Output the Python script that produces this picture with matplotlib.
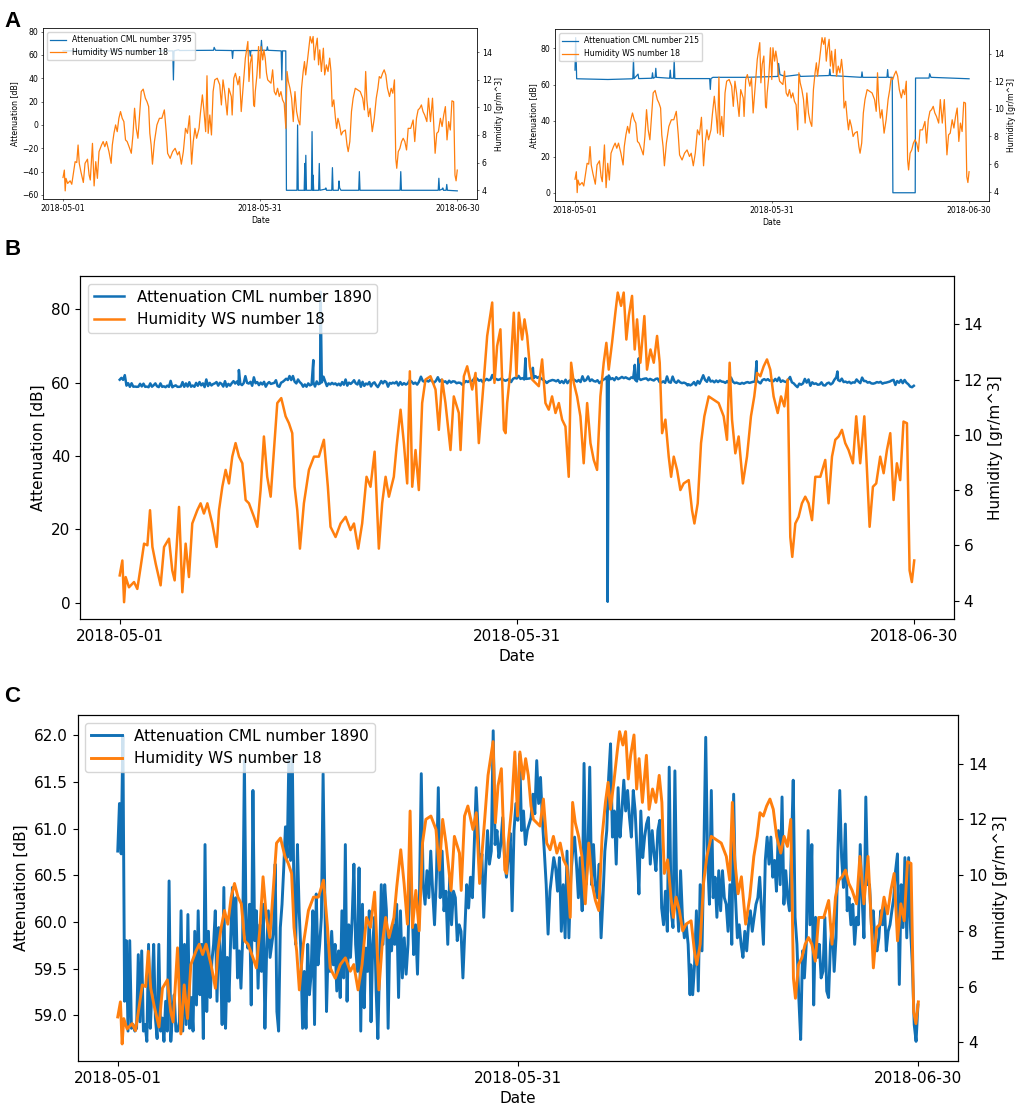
import numpy as np
import matplotlib
matplotlib.use("Agg")
from matplotlib import pyplot as plt
import matplotlib.dates as mdates

# =============================================================================
#         Humidity, weather station 18 (same series in all four plots)
# =============================================================================
hum_days = [0.00, 0.20, 0.33, 0.45, 0.70, 1.08, 1.33, 1.58, 1.84, 2.09, 2.29, 2.47,
            2.72, 3.09, 3.35, 3.72, 3.97, 4.15, 4.48, 4.73, 4.98, 5.23, 5.48, 5.86,
            6.11, 6.36, 6.62, 6.99, 7.32, 7.50, 7.75, 8.00, 8.25, 8.50, 8.75, 9.01,
            9.26, 9.51, 9.76, 10.14, 10.39, 10.64, 10.89, 11.14, 11.40, 11.65, 11.90,
            12.20, 12.53, 12.78, 13.03, 13.21, 13.41, 13.61, 13.91, 14.29, 14.67,
            15.04, 15.42, 15.72, 15.92, 16.30, 16.68, 17.06, 17.43, 17.69, 18.01,
            18.31, 18.64, 18.94, 19.25, 19.57, 19.82, 20.08, 20.33, 20.70, 20.91,
            21.21, 21.46, 21.71, 21.91, 22.09, 22.34, 22.59, 22.84, 23.09, 23.47,
            23.85, 24.10, 24.35, 24.60, 24.98, 25.23, 25.61, 25.74, 25.99, 26.24,
            26.62, 26.87, 27.12, 27.50, 27.75, 28.13, 28.30, 28.50,
            28.75, 29.01, 29.14, 29.26, 29.51, 29.76, 29.96, 30.14, 30.39, 30.57,
            30.77, 30.97, 31.15, 31.40, 31.65, 31.90, 32.15, 32.40, 32.65, 32.91,
            33.16, 33.41, 33.66, 33.91, 34.09, 34.29, 34.54, 34.79, 35.04, 35.30,
            35.55, 35.80, 36.05, 36.30, 36.55, 36.75, 36.93, 37.18, 37.43, 37.61,
            37.86, 38.06, 38.26, 38.44, 38.69, 38.89, 39.07, 39.32, 39.62, 39.82,
            40.08, 40.33, 40.58, 40.78, 40.96, 41.21, 41.46, 41.64, 41.84, 42.09,
            42.34, 42.59, 42.97, 43.22, 43.40, 43.65, 43.90, 44.15, 44.48, 44.86,
            45.23, 45.61, 45.86, 46.06, 46.24, 46.49, 46.74, 47.06, 47.37, 47.67,
            47.92, 48.13, 48.38, 48.63, 48.88, 49.13, 49.38, 49.69, 49.94, 50.19,
            50.44, 50.64, 50.79, 51.02, 51.27, 51.52, 51.77, 52.02, 52.28, 52.53,
            52.91, 53.28, 53.53, 53.79, 54.04, 54.29, 54.54, 54.79, 55.04, 55.37,
            55.62, 55.92, 56.23, 56.43, 56.63, 56.88, 57.13, 57.43, 57.69, 57.94,
            58.19, 58.44, 58.69, 58.94, 59.19, 59.45, 59.65, 59.82, 60.00]
hum_vals = [4.91, 5.45, 3.94, 4.85, 4.48, 4.67, 4.42, 5.21, 6.06, 6.00, 7.27, 5.94,
            5.33, 4.55, 5.94, 6.24, 5.09, 4.73, 7.39, 4.30, 6.06, 4.85, 6.79, 7.27,
            7.52, 7.15, 7.52, 6.79, 5.94, 7.27, 8.12, 8.73, 8.24, 9.21, 9.70, 9.21,
            8.97, 7.64, 7.52, 7.03, 6.67, 8.00, 9.94, 8.48, 7.76, 9.45, 11.15,
            11.33, 10.67, 10.42, 10.06, 8.12, 7.27, 5.88, 7.52, 8.73, 9.21,
            9.21, 9.82, 8.12, 6.67, 6.30, 6.79, 7.03, 6.55, 6.79, 5.88,
            6.79, 8.48, 8.12, 9.39, 5.88, 7.52, 8.48, 7.76, 8.48, 9.58,
            10.91, 9.70, 8.24, 12.30, 8.12, 9.45, 8.00, 11.15, 12.00, 12.12,
            11.64, 10.18, 12.00, 11.15, 9.45, 11.39, 10.79, 9.45, 12.12, 12.48,
            11.64, 12.24, 9.70, 12.00, 13.58, 14.79, 11.88, 13.21,
            13.82, 10.18, 10.06, 11.15, 12.36, 14.42, 12.12, 14.42, 13.45, 14.18,
            13.58, 12.48, 12.00, 11.88, 11.76, 12.73, 11.15, 10.91, 11.39, 10.79,
            11.15, 10.55, 10.30, 8.48, 12.61, 11.88, 11.39, 10.67, 8.97, 11.15,
            9.70, 9.09, 8.73, 11.39, 12.61, 13.33, 12.36, 13.33, 14.42, 15.15,
            14.67, 15.15, 13.45, 14.30, 15.03, 13.09, 14.18, 12.61, 14.30, 12.36,
            13.09, 12.61, 13.58, 12.61, 10.06, 10.55, 9.21, 8.48, 9.21, 8.73,
            8.00, 8.24, 8.36, 7.27, 6.79, 7.52, 9.70, 10.67, 11.39, 11.27,
            11.15, 10.67, 9.82, 12.61, 10.55, 9.33, 9.94, 8.24, 9.21, 10.67,
            11.39, 12.24, 12.12, 12.48, 12.73, 12.36, 11.39, 10.79, 11.39, 11.03,
            12.00, 6.30, 5.58, 6.79, 7.03, 7.52, 7.76, 7.52, 6.91, 8.48,
            8.48, 9.09, 7.52, 9.21, 9.82, 9.94, 10.18, 9.70, 9.45, 8.97,
            10.67, 8.97, 10.67, 8.73, 6.67, 8.12, 8.24, 9.21, 8.61, 9.45,
            10.06, 7.64, 8.97, 8.36, 10.48, 10.42, 5.09, 4.67, 5.45]

# =============================================================================
#         CML 1890, cleaned (panel C), three evenly sampled stretches
# =============================================================================
cml1890_a = [60.76, 61.27, 60.73, 62.00, 59.15, 59.80, 58.83, 59.80, 58.86, 58.90,
             58.83, 58.86, 59.65, 58.93, 59.69, 58.83, 58.90, 58.72, 59.76, 58.86,
             59.26, 59.76, 58.97, 58.75, 59.76, 58.83, 58.97, 58.72, 59.15, 58.83,
             60.44, 58.72, 59.04, 59.22, 58.83, 58.83, 58.93, 60.12, 58.83, 59.76,
             58.90, 60.08, 58.86, 59.19, 58.83, 59.90, 59.11, 60.12, 59.22, 59.76,
             58.75, 60.83, 59.04, 59.90, 59.19, 59.58, 59.76, 60.12, 59.15, 59.94,
             59.62, 58.90, 60.37, 58.86, 59.62, 59.15, 59.83, 60.37, 59.72, 60.26,
             59.40, 59.69, 59.29, 59.83, 61.73, 59.90, 59.72, 60.19, 59.11, 61.41,
             59.80, 60.12, 59.29, 59.97, 59.47, 60.19, 58.86, 59.69, 60.12, 59.62,
             59.76, 59.90, 60.62, 59.04, 58.83, 59.94, 60.19, 60.58, 61.02, 60.69,
             61.77, 60.66, 61.77, 60.23, 59.76, 60.83, 60.12, 59.69, 58.86, 59.47,
             58.86, 59.76, 59.22, 59.44, 60.12, 58.90, 60.30, 59.54, 59.76, 60.05,
             61.59, 60.26, 59.04, 59.76, 59.47, 59.90, 59.54, 59.76, 59.26, 59.69,
             59.19, 60.12, 59.40, 60.83, 59.15, 59.97, 59.62, 60.05, 60.62, 59.76,
             59.47, 60.58, 58.83, 60.19, 59.08, 59.72, 59.47, 60.12, 58.93, 59.76,
             60.05, 59.26, 58.75, 59.54, 60.40, 59.76, 60.40, 60.12, 58.86, 59.90,
             59.69]
cml1890_b = [59.97, 59.76, 60.19, 59.19, 60.12, 59.40, 59.83, 59.44, 59.76, 60.62,
             60.26, 59.65, 59.97, 59.44, 60.23, 61.59, 60.40, 60.19, 60.55, 60.26,
             60.76, 60.33, 59.97, 60.48, 61.44, 60.26, 60.76, 60.12, 60.33, 59.76,
             60.48, 59.97, 60.33, 60.26, 59.80, 59.97, 59.90, 59.40, 59.90, 60.40,
             60.15, 60.48, 60.26, 60.83, 61.44, 60.98, 60.48, 60.73, 60.05, 60.55,
             60.98, 60.62, 60.76, 62.05, 60.83, 60.98, 60.69, 60.83, 61.12, 60.69,
             60.48, 60.69, 60.95, 60.12, 60.98, 61.27, 61.09, 61.80, 60.98, 61.19,
             60.83, 60.98, 61.05, 61.12, 61.37, 61.16, 61.73, 61.27, 61.55, 61.09,
             60.76, 60.40, 59.87, 60.33, 60.51, 60.69, 60.58, 60.33, 60.69, 59.90,
             60.40, 59.83, 60.76, 59.83, 60.48, 60.76, 60.91, 60.62, 60.26, 60.69,
             60.12, 61.70, 60.40, 60.69, 61.66, 60.40, 60.83, 60.40, 60.26, 60.62,
             59.83, 60.26, 60.76, 60.98, 61.55, 61.91, 60.91, 61.19, 60.62, 61.44,
             60.91, 61.19, 61.52, 61.19, 61.41, 61.12, 60.91, 61.41, 61.19, 60.76,
             60.30, 61.19, 60.69, 60.91, 61.05, 61.12, 60.62, 60.98, 60.73, 60.55,
             60.98, 61.09, 60.15, 59.97, 60.33, 59.90, 61.66, 60.12, 59.94, 61.62,
             60.26, 59.90, 60.55, 60.05, 59.83, 59.97, 59.76, 59.22]
cml1890_c = [59.54, 59.22, 59.54, 60.12, 59.26, 60.40, 59.69, 60.76, 61.98, 60.69,
             60.19, 61.41, 60.26, 60.48, 60.05, 60.55, 60.12, 60.55, 60.26, 60.19,
             59.90, 60.40, 59.76, 61.37, 60.26, 59.83, 59.97, 59.76, 59.62, 59.90,
             59.69, 59.97, 60.12, 59.90, 60.05, 60.19, 60.26, 60.48, 60.12, 59.76,
             60.66, 60.91, 60.62, 60.91, 60.48, 60.66, 60.33, 60.98, 60.40, 61.34,
             60.19, 60.55, 60.26, 60.12, 60.76, 61.52, 60.05, 59.76, 59.19, 58.74,
             59.69, 59.40, 59.76, 60.98, 59.97, 60.83, 59.11, 60.05, 59.62, 59.76,
             59.40, 59.47, 60.05, 59.26, 59.19, 59.76, 59.97, 59.47, 59.83, 60.76,
             61.41, 60.69, 60.37, 61.05, 60.12, 60.26, 59.97, 60.19, 59.76, 60.05,
             59.97, 60.83, 60.26, 59.83, 61.34, 60.40, 60.40, 59.97, 60.12, 59.76,
             59.69, 59.83, 60.12, 59.97, 60.19, 59.69, 59.90, 59.97, 60.12, 60.26,
             60.55, 60.73, 59.33, 60.40, 59.94, 60.69, 59.83, 60.69, 59.94, 59.54,
             58.90, 58.72, 59.11]
cml1890_spans = [(0.0, 20.52), (20.62, 42.89), (42.95, 59.97)]

# outliers of CML 1890 that are still in panel B
cml1890_out_days = [9.00, 14.62, 15.17, 30.64, 31.20, 36.85, 38.90, 39.20, 48.10, 54.20]
cml1890_out_vals = [63.4, 66.1, 84.7, 66.6, 64.0, 0.3, 64.8, 66.6, 65.8, 63.0]

# =============================================================================
#         CML 3795 and CML 215 (panel A), breakpoints
# =============================================================================
cml3795_days = [0.0, 16.7, 16.8, 16.9, 17.6, 17.7, 22.9, 23.0, 23.2, 25.7, 25.8, 25.9,
                28.4, 28.5, 28.6, 30.1, 30.2, 30.3, 31.0, 31.1, 31.2, 33.2, 33.3, 33.4,
                33.9, 34.0, 35.6, 35.7, 35.8, 36.7, 36.8, 36.85, 36.95, 37.05, 37.8,
                37.9, 38.0, 38.05, 38.15, 38.9, 39.0, 39.1, 39.9, 40.0, 40.1, 40.9,
                41.0, 41.1, 41.9, 42.0, 42.1, 42.3, 45.0, 45.1, 45.2, 51.3, 51.4, 51.5,
                57.1, 57.2, 57.3, 57.7, 57.8, 57.9, 58.3, 58.4, 58.5, 60.0]
cml3795_vals = [63.5, 63.5, 38.6, 63.5, 64.5, 63.8, 64.0, 66.5, 64.0, 63.8, 57.0, 63.8,
                63.8, 59.0, 63.8, 63.8, 72.5, 63.8, 64.0, 67.0, 64.0, 63.5, 38.6, 63.5,
                63.5, -56.0, -56.0, 0.0, -56.0, -56.0, -33.0, -56.0, -26.0, -56.0, -56.0,
                -5.7, -56.0, -43.0, -56.0, -56.0, -33.0, -56.0, -55.0, -54.0, -56.0, -56.0,
                -36.6, -56.0, -56.0, -48.0, -54.0, -56.0, -56.0, -40.0, -56.0, -56.0, -40.0, -56.0,
                -56.0, -45.7, -56.0, -55.0, -54.0, -56.0, -56.0, -51.0, -56.0, -56.5]

cml215_days = [0.0, 0.1, 0.25, 5.0, 8.8, 8.9, 9.0, 9.6, 9.7, 11.7, 11.8, 11.9, 12.2,
               12.3, 12.4, 14.4, 14.5, 14.6, 15.0, 15.1, 15.2, 20.5, 20.6, 20.7, 21.0,
               26.0, 30.9, 31.0, 31.2, 32.0, 34.2, 34.3, 38.7, 38.8, 38.9, 43.6, 43.7,
               43.8, 47.5, 47.6, 47.7, 48.3, 48.4, 51.8, 51.85, 53.9, 54.0, 54.2, 60.0]
cml215_vals = [68.0, 86.0, 63.2, 62.8, 63.2, 74.0, 63.3, 65.8, 63.3, 63.5, 66.5, 63.5, 64.0,
               69.0, 64.0, 63.5, 68.0, 63.5, 63.5, 73.6, 63.3, 63.3, 57.3, 63.3, 64.0,
               64.0, 64.5, 71.7, 65.5, 64.5, 65.5, 64.5, 65.0, 68.5, 65.0, 64.0, 67.0,
               64.0, 64.0, 68.3, 64.0, 64.0, 0.0, 0.0, 63.6, 63.6, 66.0, 64.0, 63.2]

tick_dates = ["2018-05-01", "2018-05-31", "2018-06-30"]

BLUE = "#1170b5"
ORANGE = "#ff7f0e"

start = mdates.date2num(np.datetime64("2018-05-01"))


def to_x(days):
    return start + np.asarray(days, dtype=float)


# cleaned CML 1890 on its time axis
c_days = np.concatenate([np.linspace(a, b, len(v)) for (a, b), v in
                         zip(cml1890_spans, [cml1890_a, cml1890_b, cml1890_c])])
c_vals = np.concatenate([cml1890_a, cml1890_b, cml1890_c])

# raw CML 1890 = cleaned + outliers
b_days = np.concatenate([c_days, cml1890_out_days])
b_vals = np.concatenate([c_vals, cml1890_out_vals])
order = np.argsort(b_days, kind="stable")
b_days, b_vals = b_days[order], b_vals[order]

fig = plt.figure(figsize=(10.24, 11.12), dpi=100)


def panel(rect, days, vals, cml, att_lim, fs, lw):
    s = fs / 11.0
    ax = fig.add_axes(rect)
    ax2 = ax.twinx()
    l1, = ax.plot(to_x(days), vals, color=BLUE, lw=lw)
    l2, = ax2.plot(to_x(hum_days), hum_vals, color=ORANGE, lw=lw)
    ax.set_ylim(att_lim)
    ax2.set_ylim(3.33, 15.75)
    ax.set_xticks([mdates.date2num(np.datetime64(d)) for d in tick_dates])
    ax.xaxis.set_major_formatter(mdates.DateFormatter("%Y-%m-%d"))
    for a in (ax, ax2):
        a.tick_params(labelsize=fs, length=3.5 * s, width=0.8 * s, pad=3.5 * s)
        for sp in a.spines.values():
            sp.set_linewidth(0.8 * s)
    ax.set_xlabel("Date", fontsize=fs, labelpad=4 * s)
    ax.set_ylabel("Attenuation [dB]", fontsize=fs, labelpad=4 * s)
    ax2.set_ylabel("Humidity [gr/m^3]", fontsize=fs, labelpad=4 * s)
    ax2.legend([l1, l2], ["Attenuation CML number %d" % cml, "Humidity WS number 18"],
               loc="upper left", fontsize=fs, borderpad=0.4, handlelength=2.0,
               borderaxespad=0.5)
    return ax


panel([0.0423, 0.8208, 0.4235, 0.1538], cml3795_days, cml3795_vals, 3795,
      (-63.7, 82.9), 5.6, 0.9)
panel([0.5423, 0.8192, 0.4233, 0.1544], cml215_days, cml215_vals, 215,
      (-4.6, 90.6), 5.6, 0.9)
panel([0.0781, 0.4433, 0.8535, 0.3085], b_days, b_vals, 1890,
      (-4.4, 89.0), 11, 1.8)
panel([0.0759, 0.0459, 0.8600, 0.3112], c_days, c_vals, 1890,
      (58.51, 62.22), 11, 2.1)

for letter, y in (("A", 0.990), ("B", 0.785), ("C", 0.383)):
    fig.text(0.004, y, letter, fontsize=16, fontweight="bold",
             family="Liberation Sans", va="top", ha="left")

fig.savefig("out.png", dpi=100)
